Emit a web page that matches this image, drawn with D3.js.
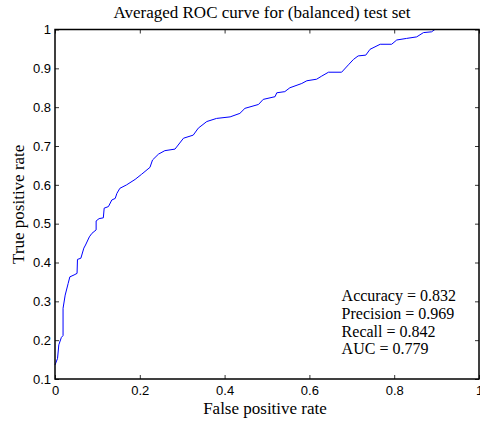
<!DOCTYPE html>
<html>
<head>
<meta charset="utf-8">
<script src="https://cdn.jsdelivr.net/npm/d3@7"></script>
<style>
  body { margin: 0; background: #fff; }
  .tick text { font-family: "Liberation Sans", Arial, sans-serif; font-size: 13px; fill: #000; }
  .serif { font-family: "Liberation Serif", "DejaVu Serif", serif; fill: #000; }
</style>
</head>
<body>
<div id="vis"></div>
<script>
const fpr = [0, 0.006, 0.009, 0.015, 0.019, 0.019, 0.024, 0.031, 0.035, 0.045, 0.052, 0.053,
  0.061, 0.068, 0.072, 0.081, 0.087, 0.097, 0.097, 0.104, 0.114, 0.116, 0.126, 0.134,
  0.142, 0.146, 0.153, 0.169, 0.189, 0.204, 0.224, 0.230, 0.244, 0.259, 0.283, 0.303,
  0.326, 0.338, 0.358, 0.381, 0.413, 0.436, 0.448, 0.480, 0.491, 0.519, 0.523, 0.542,
  0.554, 0.582, 0.594, 0.617, 0.629, 0.645, 0.676, 0.692, 0.704, 0.715, 0.733, 0.743,
  0.767, 0.794, 0.806, 0.829, 0.853, 0.869, 0.888, 0.896, 1.0];
const tpr = [0.136, 0.153, 0.188, 0.207, 0.212, 0.282, 0.316, 0.346, 0.363, 0.368, 0.372, 0.408,
  0.411, 0.437, 0.445, 0.466, 0.475, 0.484, 0.507, 0.513, 0.515, 0.540, 0.544, 0.561,
  0.565, 0.578, 0.591, 0.600, 0.614, 0.627, 0.645, 0.664, 0.679, 0.688, 0.692, 0.720,
  0.728, 0.746, 0.763, 0.771, 0.775, 0.784, 0.797, 0.807, 0.820, 0.827, 0.837, 0.840,
  0.850, 0.861, 0.868, 0.872, 0.880, 0.890, 0.890, 0.909, 0.923, 0.932, 0.934, 0.949,
  0.962, 0.962, 0.973, 0.977, 0.981, 0.992, 0.994, 1.0, 1.0];

const xTicks = [0, 0.2, 0.4, 0.6, 0.8, 1];
const yTicks = [0.1, 0.2, 0.3, 0.4, 0.5, 0.6, 0.7, 0.8, 0.9, 1];
const stats = ["Accuracy = 0.832", "Precision = 0.969", "Recall = 0.842", "AUC = 0.779"];

const margin = { top: 29.5, right: 1, bottom: 42, left: 55 };
const width = 480 - margin.left - margin.right;
const height = 421 - margin.top - margin.bottom;

const svg = d3.select("#vis")
  .append("svg")
  .attr("width", 480)
  .attr("height", 421)
  .append("g")
  .attr("transform", `translate(${margin.left},${margin.top})`);

const x = d3.scaleLinear().domain([0, 1]).range([0, width]);
const y = d3.scaleLinear().domain([0.1, 1]).range([height, 0]);

function styleAxis(g) {
  g.select(".domain").remove();
  g.selectAll(".tick line").attr("stroke", "#000").attr("stroke-width", 0.8);
}

// bottom / left axes with labels, ticks pointing inward
svg.append("g")
  .attr("transform", `translate(0,${height})`)
  .call(d3.axisBottom(x).tickValues(xTicks).tickSizeInner(-4).tickSizeOuter(0).tickPadding(7).tickFormat(d3.format("")))
  .call(styleAxis);

svg.append("g")
  .call(d3.axisLeft(y).tickValues(yTicks).tickSizeInner(-4).tickSizeOuter(0).tickPadding(4).tickFormat(d3.format("")))
  .call(styleAxis);

// top / right tick marks only
svg.append("g")
  .call(d3.axisTop(x).tickValues(xTicks).tickSizeInner(-4).tickSizeOuter(0).tickFormat(""))
  .call(styleAxis);

svg.append("g")
  .attr("transform", `translate(${width},0)`)
  .call(d3.axisRight(y).tickValues(yTicks).tickSizeInner(-4).tickSizeOuter(0).tickFormat(""))
  .call(styleAxis);

// curve
const line = d3.line()
  .x((d, i) => x(fpr[i]))
  .y((d, i) => y(tpr[i]));

svg.append("path")
  .datum(fpr)
  .attr("fill", "none")
  .attr("stroke", "#0000ff")
  .attr("stroke-width", 1)
  .attr("d", line);

// frame
svg.append("rect")
  .attr("width", width)
  .attr("height", height)
  .attr("fill", "none")
  .attr("stroke", "#000")
  .attr("stroke-width", 1.5);

svg.append("text")
  .attr("class", "serif")
  .attr("x", width / 2 - 5)
  .attr("y", -12)
  .attr("text-anchor", "middle")
  .attr("font-size", "17px")
  .text("Averaged ROC curve for (balanced) test set");

svg.append("text")
  .attr("class", "serif")
  .attr("x", width / 2 - 2)
  .attr("y", height + 35)
  .attr("text-anchor", "middle")
  .attr("font-size", "17px")
  .text("False positive rate");

svg.append("text")
  .attr("class", "serif")
  .attr("transform", "rotate(-90)")
  .attr("x", -height / 2)
  .attr("y", -31)
  .attr("text-anchor", "middle")
  .attr("font-size", "17px")
  .text("True positive rate");

svg.selectAll(".stat")
  .data(stats)
  .enter()
  .append("text")
  .attr("class", "serif stat")
  .attr("x", x(0.676))
  .attr("y", (d, i) => y(0.3) + i * 17.7)
  .attr("font-size", "16px")
  .text(d => d);
</script>
</body>
</html>
